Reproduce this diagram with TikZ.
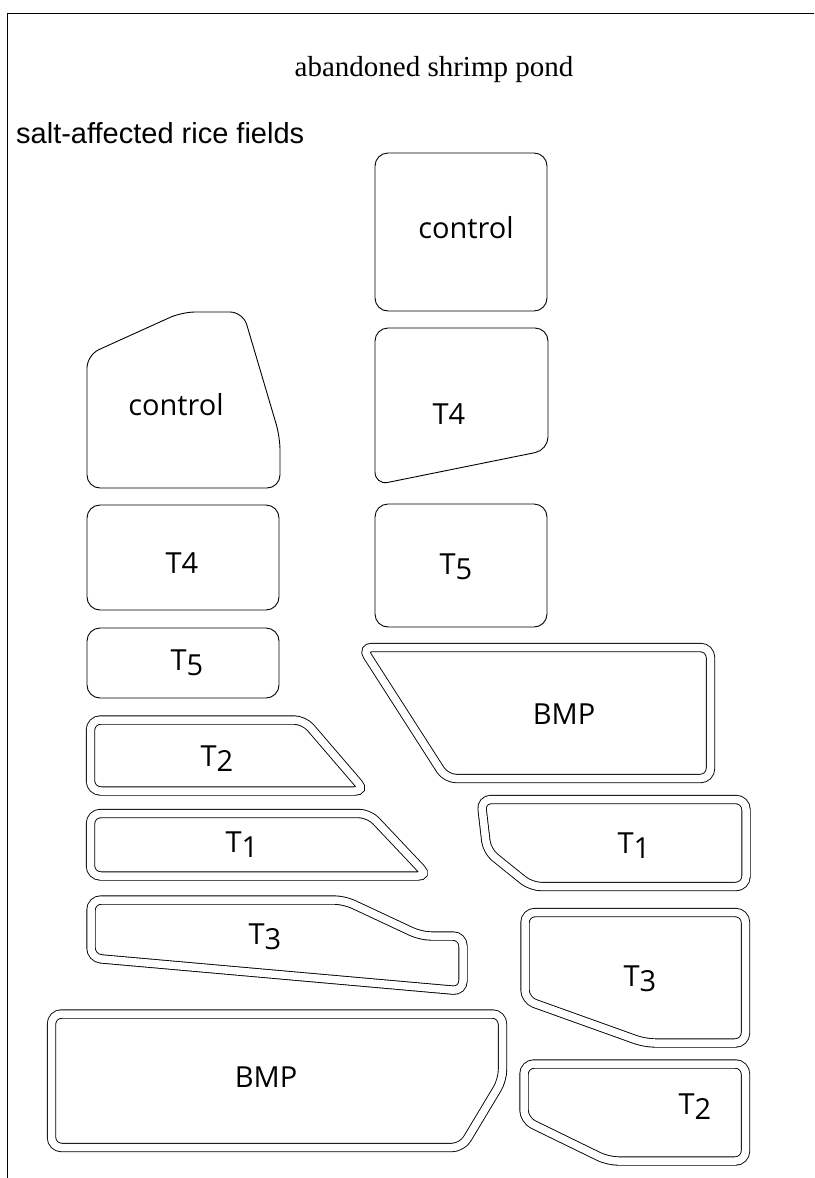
\documentclass[tikz,border=0pt]{standalone}
\usepackage{fontspec}
\setmainfont{Open Sans}
\newfontfamily\titlefont{Liberation Serif}
\newfontfamily\notefont{Liberation Sans}
% old-style looking figures: digits sit a little below the baseline
\newcommand\dn[1]{\raisebox{-0.17em}{#1}}

\begin{document}
\begin{tikzpicture}[x=1pt,y=-1pt,
  plot/.style={draw=black, line width=0.9pt, rounded corners=13pt},
  dplot/.style={draw=black, line width=0.9pt, double=white, double distance=7.5pt, rounded corners=10pt},
  lab/.style={font=\fontsize{29}{29}\selectfont, inner sep=0pt},
]
\useasboundingbox (0,0) rectangle (814,1178);

% frame
\draw[line width=1pt] (7,1178) -- (7,13) -- (814,13);

% headings
\node[font=\titlefont\fontsize{29}{29}\selectfont, inner sep=0pt] (pond) at (434,70) {abandoned shrimp pond};
\node[font=\notefont\fontsize{29}{29}\selectfont, inner sep=0pt, anchor=west] (rice) at (16,133) {salt-affected rice fields};

% plots with a single bund
\draw[plot] (375,153) rectangle (547,311);
\draw[plot] (375,328) -- (548,328) -- (548,450) -- (375,485) -- cycle;
\draw[plot] (375,504) rectangle (547,627);
\draw[plot] (87,355) -- (182,312) -- (243,312) -- (280,437) -- (280,488) -- (87,488) -- cycle;
\draw[plot] (87,505) rectangle (279,610);
\draw[plot] (87,628) rectangle (279,698);

% plots with a double bund
\draw[dplot] (90.5,720) -- (304,720) -- (365,791) -- (90.5,791) -- cycle;
\draw[dplot] (90.5,813.5) -- (369,813.5) -- (428,876) -- (90.5,876) -- cycle;
\draw[dplot] (91,900) -- (344,900) -- (421,936) -- (463,936) -- (463,991) -- (91,958) -- cycle;
\draw[dplot] (362,647.5) -- (710.5,647.5) -- (710.5,778.5) -- (446,778.5) -- cycle;
\draw[dplot] (481,799.5) -- (746,799.5) -- (746,886.5) -- (531,886.5) -- (487,851) -- cycle;
\draw[dplot] (525,912.5) -- (745.5,912.5) -- (745.5,1043) -- (645,1043) -- (525,1000) -- cycle;
\draw[dplot] (524,1064) -- (745.5,1064) -- (745.5,1161) -- (608,1161) -- (524,1120) -- cycle;
\draw[dplot] (51.5,1014) -- (502.5,1014) -- (502.5,1080) -- (462,1147.5) -- (51.5,1147.5) -- cycle;

% treatment labels
\node[lab] (ctrR) at (466,228) {control};
\node[lab] (t4R)  at (449,414) {T4};
\node[lab] (t5R)  at (456,567) {T\dn{5}};
\node[lab] (ctrL) at (176,405) {control};
\node[lab] (t4L)  at (182,563) {T4};
\node[lab] (t5L)  at (187,663) {T\dn{5}};
\node[lab] (t2L)  at (217,759) {T\dn{2}};
\node[lab] (t1L)  at (242,845) {T\dn{1}};
\node[lab] (t3L)  at (265,937) {T\dn{3}};
\node[lab] (bmpR) at (564,714) {BMP};
\node[lab] (t1R)  at (634,846) {T\dn{1}};
\node[lab] (t3R)  at (640,979) {T\dn{3}};
\node[lab] (t2R)  at (695,1107) {T\dn{2}};
\node[lab] (bmpL) at (266,1077) {BMP};
\end{tikzpicture}
\end{document}
